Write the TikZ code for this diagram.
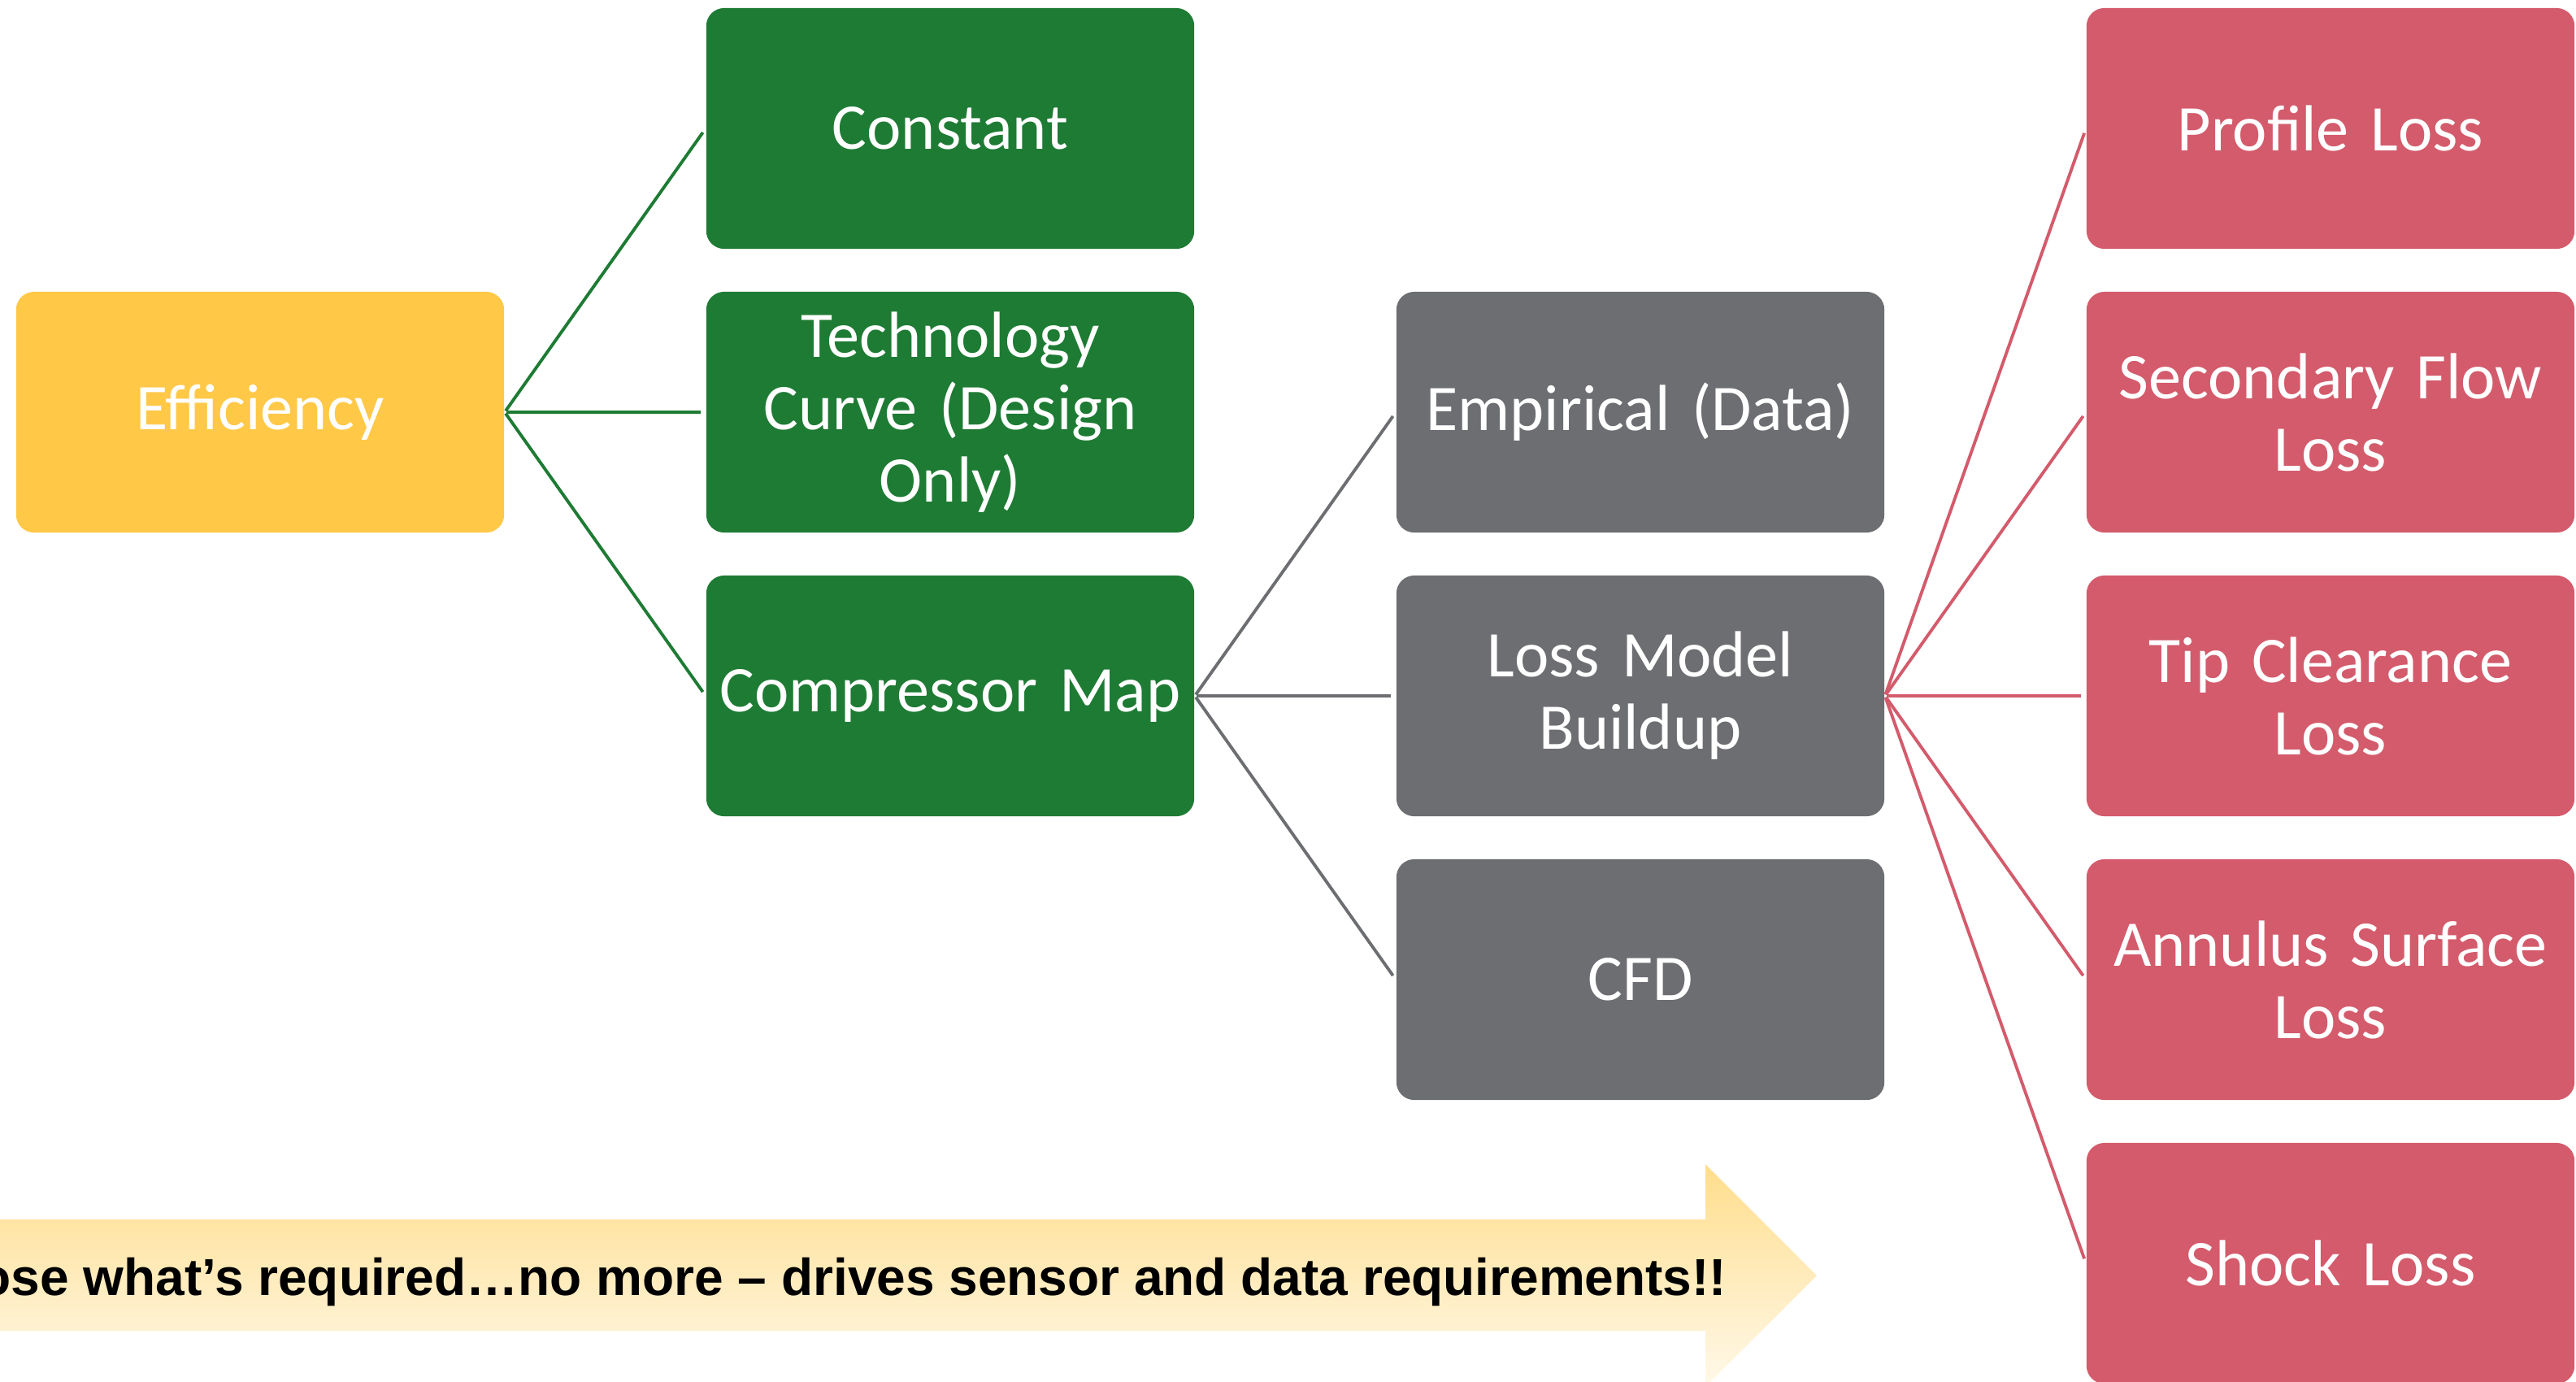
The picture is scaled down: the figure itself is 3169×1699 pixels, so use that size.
\documentclass[tikz,border=0pt]{standalone}
\usepackage{fontspec}
\setmainfont{Carlito}
\newfontfamily\bannerfont{Liberation Sans}
\usetikzlibrary{positioning}
\definecolor{effyellow}{HTML}{FFC847}
\definecolor{leafgreen}{HTML}{1E7B34}
\definecolor{slategray}{HTML}{6D6E71}
\definecolor{lossred}{HTML}{D35B6C}
\definecolor{bannertop}{HTML}{FFDD8C}
\definecolor{bannermid}{HTML}{FFE4A4}
\definecolor{bannerbot}{HTML}{FFF9EA}
\tikzset{
  card/.style={rectangle, rounded corners=0.22cm, minimum width=6cm,
    minimum height=2.96cm, text width=5.9cm, align=center, inner sep=0pt,
    text=white, font=\fontsize{22.8}{25.3}\selectfont},
  effcard/.style={card, fill=effyellow},
  greencard/.style={card, fill=leafgreen},
  graycard/.style={card, fill=slategray},
  redcard/.style={card, fill=lossred},
  link/.style={line width=1.1pt, shorten <=0.02cm, shorten >=0.06cm},
}
\begin{document}
\begin{tikzpicture}[x=0.01cm,y=-0.01cm]
\useasboundingbox (0,0) rectangle (3169,1699);

% banner arrow along the bottom
\shade[top color=bannertop, middle color=bannermid, bottom color=bannerbot]
  (-10,1500) -- (2098,1500) -- (2098,1432) -- (2235,1569) -- (2098,1706)
  -- (2098,1637) -- (-10,1637) -- cycle;
\node[anchor=base east, inner sep=0pt,
      font=\bannerfont\bfseries\fontsize{18.2}{20}\selectfont]
  (banner) at (2125,1593) {ose what’s required…no more – drives sensor and data requirements!!};

% root
\node[effcard] (eff) at (320,507) {Efficiency};

% first level
\node[greencard] (const) at (1169,158) {Constant};
\node[greencard] (tech)  at (1169,507) {Technology\\Curve (Design\\Only)};
\node[greencard] (cmap)  at (1169,856) {Compressor Map};

% second level
\node[graycard] (emp)  at (2018,507)  {Empirical (Data)};
\node[graycard] (lmb)  at (2018,856)  {Loss Model\\Buildup};
\node[graycard] (cfd)  at (2018,1205) {CFD};

% loss components
\node[redcard] (prof) at (2867,158)  {Profile Loss};
\node[redcard] (sec)  at (2867,507)  {Secondary Flow\\Loss};
\node[redcard] (tip)  at (2867,856)  {Tip Clearance\\Loss};
\node[redcard] (ann)  at (2867,1205) {Annulus Surface\\Loss};
\node[redcard] (shk)  at (2867,1554) {Shock Loss};

% connectors
\foreach \c in {const,tech,cmap}
  \draw[link, leafgreen] (eff.east) -- (\c.west);
\foreach \c in {emp,lmb,cfd}
  \draw[link, slategray] (cmap.east) -- (\c.west);
\foreach \c in {prof,sec,tip,ann,shk}
  \draw[link, lossred] (lmb.east) -- (\c.west);
\end{tikzpicture}
\end{document}
